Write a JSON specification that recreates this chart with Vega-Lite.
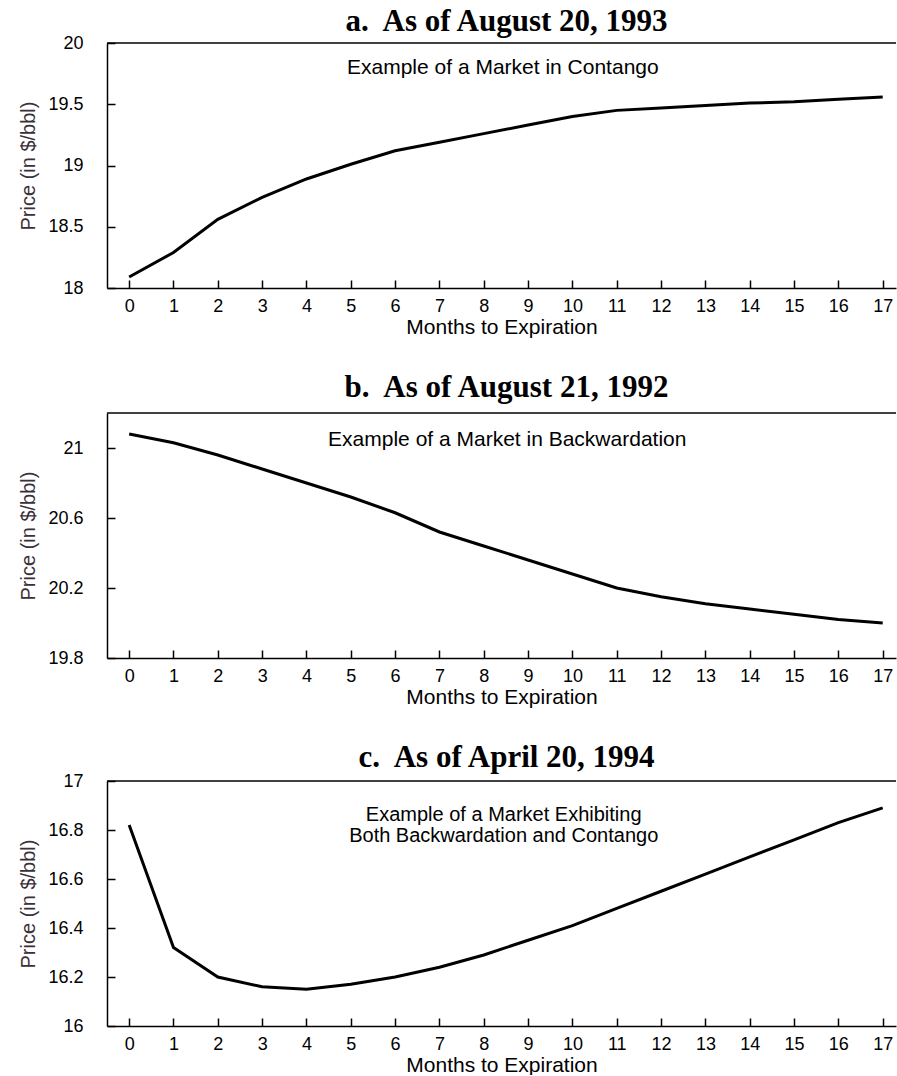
{
  "$schema": "https://vega.github.io/schema/vega-lite/v6.json",
  "padding": {"left": 18, "top": 6, "right": 0, "bottom": 0},
  "background": "white",
  "spacing": 35,
  "config": {
    "view": {"stroke": null},
    "axis": {"grid": false, "domainColor": "#000", "domainWidth": 1.5, "tickColor": "#000", "tickWidth": 1.5, "tickSize": -8, "labelFont": "Liberation Sans", "labelFontSize": 18, "labelColor": "#000", "titleFont": "Liberation Sans", "titleFontWeight": "normal", "labelFlush": false, "labelOverlap": false, "format": "~g"},
    "axisX": {"labelPadding": 17, "titleFontSize": 21, "titleColor": "#000", "titlePadding": 1, "labelAngle": 0},
    "axisY": {"labelPadding": 32, "titleFontSize": 20, "titleColor": "#3a3039", "titlePadding": 9},
    "title": {"font": "Liberation Serif", "fontSize": 31, "fontWeight": "bold", "color": "#000", "frame": "group", "anchor": "middle", "dx": 5},
    "text": {"font": "Liberation Sans", "fontSize": 21, "color": "#000"}
  },
  "data": {"values": [
    {"panel": "a", "month": 0, "price": 18.09}, {"panel": "a", "month": 1, "price": 18.29}, {"panel": "a", "month": 2, "price": 18.56}, {"panel": "a", "month": 3, "price": 18.74}, {"panel": "a", "month": 4, "price": 18.89}, {"panel": "a", "month": 5, "price": 19.01}, {"panel": "a", "month": 6, "price": 19.12}, {"panel": "a", "month": 7, "price": 19.19}, {"panel": "a", "month": 8, "price": 19.26}, {"panel": "a", "month": 9, "price": 19.33}, {"panel": "a", "month": 10, "price": 19.40}, {"panel": "a", "month": 11, "price": 19.45}, {"panel": "a", "month": 12, "price": 19.47}, {"panel": "a", "month": 13, "price": 19.49}, {"panel": "a", "month": 14, "price": 19.51}, {"panel": "a", "month": 15, "price": 19.52}, {"panel": "a", "month": 16, "price": 19.54}, {"panel": "a", "month": 17, "price": 19.56},
    {"panel": "b", "month": 0, "price": 21.08}, {"panel": "b", "month": 1, "price": 21.03}, {"panel": "b", "month": 2, "price": 20.96}, {"panel": "b", "month": 3, "price": 20.88}, {"panel": "b", "month": 4, "price": 20.80}, {"panel": "b", "month": 5, "price": 20.72}, {"panel": "b", "month": 6, "price": 20.63}, {"panel": "b", "month": 7, "price": 20.52}, {"panel": "b", "month": 8, "price": 20.44}, {"panel": "b", "month": 9, "price": 20.36}, {"panel": "b", "month": 10, "price": 20.28}, {"panel": "b", "month": 11, "price": 20.20}, {"panel": "b", "month": 12, "price": 20.15}, {"panel": "b", "month": 13, "price": 20.11}, {"panel": "b", "month": 14, "price": 20.08}, {"panel": "b", "month": 15, "price": 20.05}, {"panel": "b", "month": 16, "price": 20.02}, {"panel": "b", "month": 17, "price": 20.00},
    {"panel": "c", "month": 0, "price": 16.82}, {"panel": "c", "month": 1, "price": 16.32}, {"panel": "c", "month": 2, "price": 16.20}, {"panel": "c", "month": 3, "price": 16.16}, {"panel": "c", "month": 4, "price": 16.15}, {"panel": "c", "month": 5, "price": 16.17}, {"panel": "c", "month": 6, "price": 16.20}, {"panel": "c", "month": 7, "price": 16.24}, {"panel": "c", "month": 8, "price": 16.29}, {"panel": "c", "month": 9, "price": 16.35}, {"panel": "c", "month": 10, "price": 16.41}, {"panel": "c", "month": 11, "price": 16.48}, {"panel": "c", "month": 12, "price": 16.55}, {"panel": "c", "month": 13, "price": 16.62}, {"panel": "c", "month": 14, "price": 16.69}, {"panel": "c", "month": 15, "price": 16.76}, {"panel": "c", "month": 16, "price": 16.83}, {"panel": "c", "month": 17, "price": 16.89}
  ]},
  "vconcat": [
    {
      "title": {"text": "a.\u00a0 As of August 20, 1993", "offset": -4},
      "width": 789, "height": 245,
      "transform": [{"filter": "datum.panel == 'a'"}],
      "layer": [
        {"mark": {"type": "line", "color": "#000", "strokeWidth": 3},
         "encoding": {
           "x": {"field": "month", "type": "quantitative", "scale": {"domain": [-0.5, 17.3], "nice": false, "zero": false}, "axis": {"values": [0,1,2,3,4,5,6,7,8,9,10,11,12,13,14,15,16,17], "title": "Months to Expiration"}},
           "y": {"field": "price", "type": "quantitative", "scale": {"domain": [18, 20], "nice": false, "zero": false}, "axis": {"values": [18, 18.5, 19, 19.5, 20], "title": "Price (in $/bbl)"}}
         }},
        {"data": {"values": [{"top": 20}]}, "mark": {"type": "rule", "color": "#000", "strokeWidth": 1.5}, "encoding": {"y": {"field": "top", "type": "quantitative"}}},
        {"data": {"values": [{"note": "Example of a Market in Contango", "mx": 8.43, "py": 19.8}]}, "mark": {"type": "text", "align": "center", "baseline": "middle"}, "encoding": {"x": {"field": "mx", "type": "quantitative"}, "y": {"field": "py", "type": "quantitative"}, "text": {"field": "note"}}}
      ]
    },
    {
      "title": {"text": "b.\u00a0 As of August 21, 1992", "offset": 8},
      "width": 789, "height": 245,
      "transform": [{"filter": "datum.panel == 'b'"}],
      "layer": [
        {"mark": {"type": "line", "color": "#000", "strokeWidth": 3},
         "encoding": {
           "x": {"field": "month", "type": "quantitative", "scale": {"domain": [-0.5, 17.3], "nice": false, "zero": false}, "axis": {"values": [0,1,2,3,4,5,6,7,8,9,10,11,12,13,14,15,16,17], "title": "Months to Expiration"}},
           "y": {"field": "price", "type": "quantitative", "scale": {"domain": [19.8, 21.2], "nice": false, "zero": false}, "axis": {"values": [19.8, 20.2, 20.6, 21], "title": "Price (in $/bbl)"}}
         }},
        {"data": {"values": [{"top": 21.2}]}, "mark": {"type": "rule", "color": "#000", "strokeWidth": 1.5}, "encoding": {"y": {"field": "top", "type": "quantitative"}}},
        {"data": {"values": [{"note": "Example of a Market in Backwardation", "mx": 8.53, "py": 21.046}]}, "mark": {"type": "text", "align": "center", "baseline": "middle"}, "encoding": {"x": {"field": "mx", "type": "quantitative"}, "y": {"field": "py", "type": "quantitative"}, "text": {"field": "note"}}}
      ]
    },
    {
      "title": {"text": "c.\u00a0 As of April 20, 1994", "offset": -2},
      "width": 789, "height": 245,
      "transform": [{"filter": "datum.panel == 'c'"}],
      "layer": [
        {"mark": {"type": "line", "color": "#000", "strokeWidth": 3},
         "encoding": {
           "x": {"field": "month", "type": "quantitative", "scale": {"domain": [-0.5, 17.3], "nice": false, "zero": false}, "axis": {"values": [0,1,2,3,4,5,6,7,8,9,10,11,12,13,14,15,16,17], "title": "Months to Expiration"}},
           "y": {"field": "price", "type": "quantitative", "scale": {"domain": [16, 17], "nice": false, "zero": false}, "axis": {"values": [16, 16.2, 16.4, 16.6, 16.8, 17], "title": "Price (in $/bbl)"}}
         }},
        {"data": {"values": [{"top": 17}]}, "mark": {"type": "rule", "color": "#000", "strokeWidth": 1.5}, "encoding": {"y": {"field": "top", "type": "quantitative"}}},
        {"data": {"values": [{"note": ["Example of a Market Exhibiting", "Both Backwardation and Contango"], "mx": 8.45, "py": 16.86}]}, "mark": {"type": "text", "align": "center", "baseline": "middle", "fontSize": 20, "lineHeight": 21}, "encoding": {"x": {"field": "mx", "type": "quantitative"}, "y": {"field": "py", "type": "quantitative"}, "text": {"field": "note"}}}
      ]
    }
  ]
}
